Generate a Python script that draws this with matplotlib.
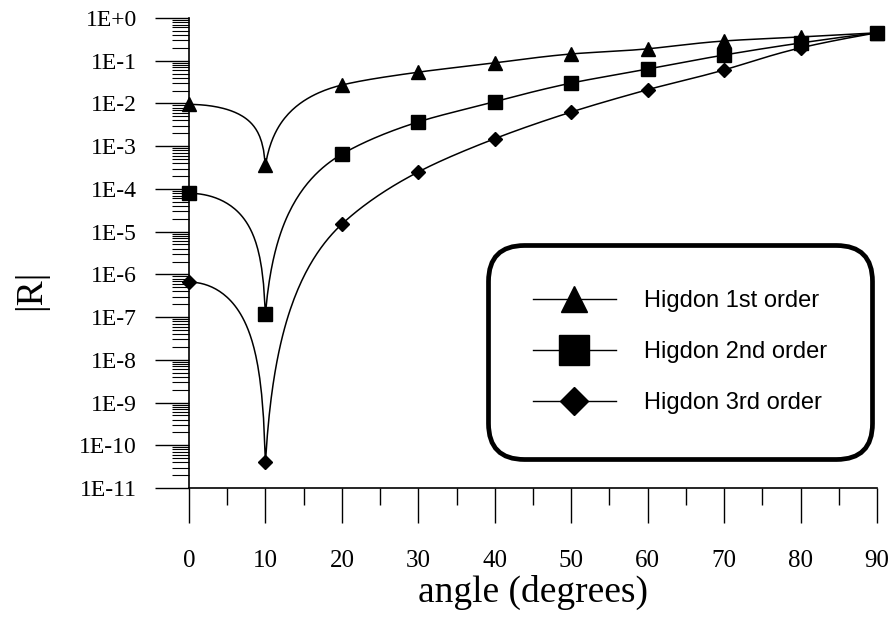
import numpy as np
import matplotlib
matplotlib.use("Agg")
import matplotlib.pyplot as plt
from matplotlib.ticker import FixedLocator, FixedFormatter, LogLocator, MultipleLocator, NullFormatter

# Reflection coefficient |R| versus incidence angle for Higdon boundary conditions
angles = [0, 10, 20, 30, 40, 50, 60, 70, 80, 90]
higdon_1st = [9.5e-3, 3.6e-4, 2.7e-2, 5.4e-2, 8.9e-2, 1.44e-1, 1.9e-1, 2.9e-1, 3.6e-1, 4.5e-1]
higdon_2nd = [7.9e-5, 1.2e-7, 6.5e-4, 3.7e-3, 1.1e-2, 3.0e-2, 6.4e-2, 1.36e-1, 2.6e-1, 4.5e-1]
higdon_3rd = [6.6e-7, 4.0e-11, 1.5e-5, 2.5e-4, 1.5e-3, 6.3e-3, 2.1e-2, 6.1e-2, 2.0e-1, 4.5e-1]

series_labels = ["Higdon 1st order", "Higdon 2nd order", "Higdon 3rd order"]
series_orders = [1, 2, 3]
series_markers = ["^", "s", "D"]
series_marker_sizes = [9.5, 10.5, 7.2]

x_ticks = [0, 10, 20, 30, 40, 50, 60, 70, 80, 90]
y_ticks = [1e0, 1e-1, 1e-2, 1e-3, 1e-4, 1e-5, 1e-6, 1e-7, 1e-8, 1e-9, 1e-10, 1e-11]
y_tick_labels = ["1E+0", "1E-1", "1E-2", "1E-3", "1E-4", "1E-5",
                 "1E-6", "1E-7", "1E-8", "1E-9", "1E-10", "1E-11"]


def smoothed_line(x, y, order, steps=40):
    """Monotone cubic Hermite smoothing of y**(1/order), sampled as a polyline."""
    x = np.asarray(x, float)
    u = np.asarray(y, float) ** (1.0 / order)
    n = len(u)
    m = np.zeros(n)
    m[1:-1] = (u[2:] - u[:-2]) / 2.0
    m[-1] = u[-1] - u[-2]
    s = np.linspace(0.0, 1.0, steps + 1)
    h00 = 2 * s**3 - 3 * s**2 + 1
    h10 = s**3 - 2 * s**2 + s
    h01 = -2 * s**3 + 3 * s**2
    h11 = s**3 - s**2
    xs, us = [x[:1]], [u[:1]]
    for i in range(n - 1):
        d = u[i + 1] - u[i]
        a, b = m[i], m[i + 1]
        if a * d < 0:
            a = 0.0
        if b * d < 0:
            b = 2.0 * d
        a = np.sign(d) * min(abs(a), 3 * abs(d))
        b = np.sign(d) * min(abs(b), 3 * abs(d))
        seg = u[i] * h00 + a * h10 + u[i + 1] * h01 + b * h11
        xs.append(x[i] + (x[i + 1] - x[i]) * s[1:])
        us.append(seg[1:])
    xs = np.concatenate(xs)
    us = np.clip(np.concatenate(us), 1e-300, None)
    return xs, us ** order


serif = "Liberation Serif"
sans = "Liberation Sans"

fig = plt.figure(figsize=(8.93, 6.17), dpi=100)
fig.patch.set_facecolor("white")
ax = fig.add_axes([189 / 893, 1 - 488 / 617, 688 / 893, 470 / 617])

handles = []
for vals, order, label, mk, ms in zip([higdon_1st, higdon_2nd, higdon_3rd], series_orders,
                                      series_labels, series_markers, series_marker_sizes):
    sx, sy = smoothed_line(angles, vals, order)
    ax.plot(sx, sy, color="black", lw=1.1, solid_joinstyle="round")
    ax.plot(angles, vals, linestyle="none", marker=mk, markersize=ms,
            color="black", clip_on=False)
    h, = ax.plot([], [], color="black", lw=1.0, marker=mk, markersize=ms,
                 label=label)
    handles.append(h)

ax.set_yscale("log")
ax.set_xlim(0, 90)
ax.set_ylim(1e-11, 1)

for side in ("top", "right"):
    ax.spines[side].set_visible(False)
for side in ("left", "bottom"):
    ax.spines[side].set_linewidth(1.2)

ax.yaxis.set_major_locator(FixedLocator(y_ticks))
ax.yaxis.set_major_formatter(FixedFormatter(y_tick_labels))
ax.yaxis.set_minor_locator(LogLocator(base=10, subs=np.arange(2, 10), numticks=100))
ax.yaxis.set_minor_formatter(NullFormatter())
ax.xaxis.set_major_locator(FixedLocator(x_ticks))
ax.xaxis.set_minor_locator(MultipleLocator(5))

ax.tick_params(axis="y", which="major", direction="out", length=24.5, width=1.0,
               pad=13, labelsize=17)
ax.tick_params(axis="y", which="minor", direction="out", length=12, width=0.8)
ax.tick_params(axis="x", which="major", direction="out", length=25.5, width=1.0,
               pad=19, labelsize=18)
ax.tick_params(axis="x", which="minor", direction="out", length=12.5, width=1.0)
for lab in ax.get_xticklabels() + ax.get_yticklabels():
    lab.set_fontfamily(serif)

ax.set_xlabel("angle (degrees)", fontsize=27, fontfamily=serif, labelpad=2)
fig.text(31 / 893, 1 - 290 / 617, "|R|", rotation=90, ha="center", va="center",
         fontsize=27, fontfamily=serif)

leg = ax.legend(handles=handles, loc="center",
                bbox_to_anchor=(680 / 893, 1 - 352 / 617),
                bbox_transform=fig.transFigure,
                prop={"family": sans, "size": 17},
                markerscale=2.0, handlelength=3.5, handletextpad=1.2,
                labelspacing=1.23, borderpad=1.9, frameon=True, fancybox=True)
frame = leg.get_frame()
frame.set_edgecolor("black")
frame.set_linewidth(3.4)
frame.set_facecolor("white")
frame.set_alpha(1.0)
frame.set_boxstyle("round", pad=0, rounding_size=1.5)

fig.savefig("out.png", dpi=100, facecolor="white")
